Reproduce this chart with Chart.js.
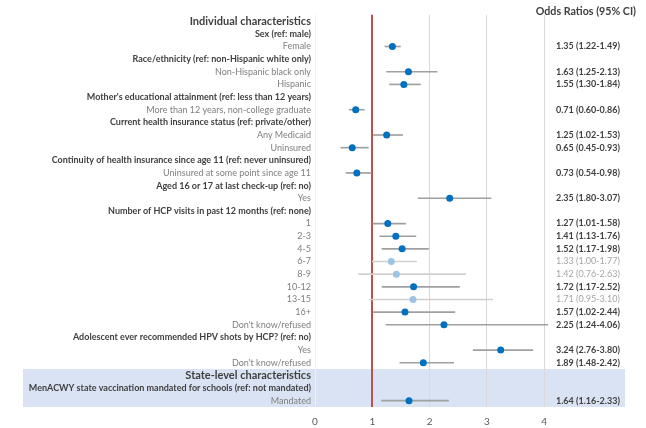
<!DOCTYPE html>
<html>
<head>
<meta charset="utf-8">
<script src="https://cdn.jsdelivr.net/npm/chart.js@4.4.1/dist/chart.umd.min.js"></script>
<style>
  html, body { margin: 0; padding: 0; background: #fff; }
  #wrap { width: 646px; height: 428px; }
</style>
</head>
<body>
<div id="wrap"><canvas id="forestChart"></canvas></div>
<script>
// rows top to bottom
var rowLabels = [
  'Individual characteristics',
  'Sex (ref: male)', 'Female',
  'Race/ethnicity (ref: non-Hispanic white only)', 'Non-Hispanic black only', 'Hispanic',
  "Mother's educational attainment (ref: less than 12 years)", 'More than 12 years, non-college graduate',
  'Current health insurance status (ref: private/other)', 'Any Medicaid', 'Uninsured',
  'Continuity of health insurance since age 11 (ref: never uninsured)', 'Uninsured at some point since age 11',
  'Aged 16 or 17 at last check-up (ref: no)', 'Yes',
  'Number of HCP visits in past 12 months (ref: none)', '1', '2-3', '4-5', '6-7', '8-9', '10-12', '13-15', '16+', "Don't know/refused",
  'Adolescent ever recommended HPV shots by HCP? (ref: no)', 'Yes', "Don't know/refused",
  'State-level characteristics',
  'MenACWY state vaccination mandated for schools (ref: not mandated)', 'Mandated'
];
var rowKinds = [
  'section',
  'group', 'item',
  'group', 'item', 'item',
  'group', 'item',
  'group', 'item', 'item',
  'group', 'item',
  'group', 'item',
  'group', 'item', 'item', 'item', 'item', 'item', 'item', 'item', 'item', 'item',
  'group', 'item', 'item',
  'section',
  'group', 'item'
];
var oddsRatio = [
  null,
  null, 1.35,
  null, 1.63, 1.55,
  null, 0.71,
  null, 1.25, 0.65,
  null, 0.73,
  null, 2.35,
  null, 1.27, 1.41, 1.52, 1.33, 1.42, 1.72, 1.71, 1.57, 2.25,
  null, 3.24, 1.89,
  null,
  null, 1.64
];
var ciLower = [
  null,
  null, 1.22,
  null, 1.25, 1.30,
  null, 0.60,
  null, 1.02, 0.45,
  null, 0.54,
  null, 1.80,
  null, 1.01, 1.13, 1.17, 1.00, 0.76, 1.17, 0.95, 1.02, 1.24,
  null, 2.76, 1.48,
  null,
  null, 1.16
];
var ciUpper = [
  null,
  null, 1.49,
  null, 2.13, 1.84,
  null, 0.86,
  null, 1.53, 0.93,
  null, 0.98,
  null, 3.07,
  null, 1.58, 1.76, 1.98, 1.77, 2.63, 2.52, 3.10, 2.44, 4.06,
  null, 3.80, 2.42,
  null,
  null, 2.33
];
var xMin = 0;
var xMax = 4.1;
var xStep = 1;

function isSignificant(i) {
  return ciLower[i] > 1 || ciUpper[i] < 1;
}

var orText = oddsRatio.map(function (v, i) {
  if (v === null) return '';
  return v.toFixed(2) + ' (' + ciLower[i].toFixed(2) + '-' + ciUpper[i].toFixed(2) + ')';
});

var ciRanges = ciLower.map(function (lo, i) {
  return lo === null ? null : [lo, ciUpper[i]];
});

var FONT = 'Lato, "Open Sans", sans-serif';

// light blue band behind the state-level block
var stateBand = {
  id: 'stateBand',
  beforeDraw: function (chart) {
    var y = chart.scales.y;
    var first = rowLabels.indexOf('State-level characteristics');
    var last = rowLabels.length - 1;
    var half = (y.getPixelForValue(1) - y.getPixelForValue(0)) / 2;
    var top = y.getPixelForValue(first) - half;
    var bottom = y.getPixelForValue(last) + half;
    var c = chart.ctx;
    c.save();
    c.fillStyle = '#dae3f3';
    c.fillRect(23, top, chart.width - 21 - 23, bottom - top);
    c.restore();
  }
};

var ctx = document.getElementById('forestChart').getContext('2d');
var forest = new Chart(ctx, {
  type: 'bar',
  data: {
    labels: rowLabels,
    datasets: [{
      type: 'line',
      label: 'Odds ratio',
      data: oddsRatio,
      showLine: false,
      pointRadius: 3.5,
      pointHoverRadius: 3.5,
      pointBorderWidth: 0,
      pointBackgroundColor: function (c) {
        return isSignificant(c.dataIndex) ? '#0070c0' : '#9dc3e6';
      },
      order: 0
    }, {
      type: 'bar',
      label: '95% CI',
      data: ciRanges,
      barThickness: 1,
      borderWidth: 0,
      backgroundColor: function (c) {
        return isSignificant(c.dataIndex) ? '#a0a0a0' : '#d0d0d0';
      },
      clip: false,
      order: 1
    }]
  },
  options: {
    indexAxis: 'y',
    responsive: true,
    maintainAspectRatio: false,
    animation: false,
    layout: { padding: { left: 0, right: 10, top: 0, bottom: 0 } },
    plugins: {
      legend: { display: false },
      tooltip: { enabled: false },
      title: {
        display: true,
        text: 'Odds Ratios (95% CI)',
        align: 'end',
        color: '#404040',
        font: { family: FONT, size: 10.7, weight: 'bold' },
        padding: { top: 5, bottom: -3 }
      }
    },
    scales: {
      x: {
        type: 'linear',
        min: xMin,
        max: xMax,
        border: { display: false },
        afterFit: function (s) { s.height = 21; },
        grid: {
          drawTicks: false,
          color: function (c) {
            if (c.tick.value === 1) return '#c0504d';
            if (c.tick.value === 0) return '#f0f0f0';
            return '#d9d9d9';
          },
          lineWidth: function (c) { return c.tick.value === 1 ? 2 : 1; }
        },
        ticks: {
          stepSize: xStep,
          includeBounds: false,
          padding: 9,
          color: '#595959',
          font: { family: FONT, size: 10 }
        }
      },
      y: {
        type: 'category',
        labels: rowLabels,
        offset: true,
        border: { display: false },
        grid: { display: false, drawTicks: false },
        afterFit: function (s) { s.width = 315; },
        ticks: {
          autoSkip: false,
          padding: 4,
          color: function (c) {
            return rowKinds[c.index] === 'item' ? '#7f7f7f' : '#404040';
          },
          font: function (c) {
            var k = rowKinds[c.index];
            if (k === 'section') return { family: FONT, size: 11, weight: 'bold' };
            if (k === 'group') return { family: FONT, size: 9, weight: 'bold' };
            return { family: FONT, size: 9 };
          }
        }
      },
      y2: {
        type: 'category',
        position: 'right',
        labels: orText,
        offset: true,
        border: { display: false },
        grid: { display: false, drawTicks: false },
        afterFit: function (s) { s.width = 86; },
        ticks: {
          autoSkip: false,
          padding: 6,
          color: function (c) {
            return oddsRatio[c.index] !== null && !isSignificant(c.index) ? '#a6a6a6' : '#404040';
          },
          font: function (c) {
            if (oddsRatio[c.index] !== null && !isSignificant(c.index)) return { family: FONT, size: 9 };
            return { family: FONT, size: 9, weight: 'bold' };
          }
        }
      }
    }
  },
  plugins: [stateBand]
});
</script>
</body>
</html>
